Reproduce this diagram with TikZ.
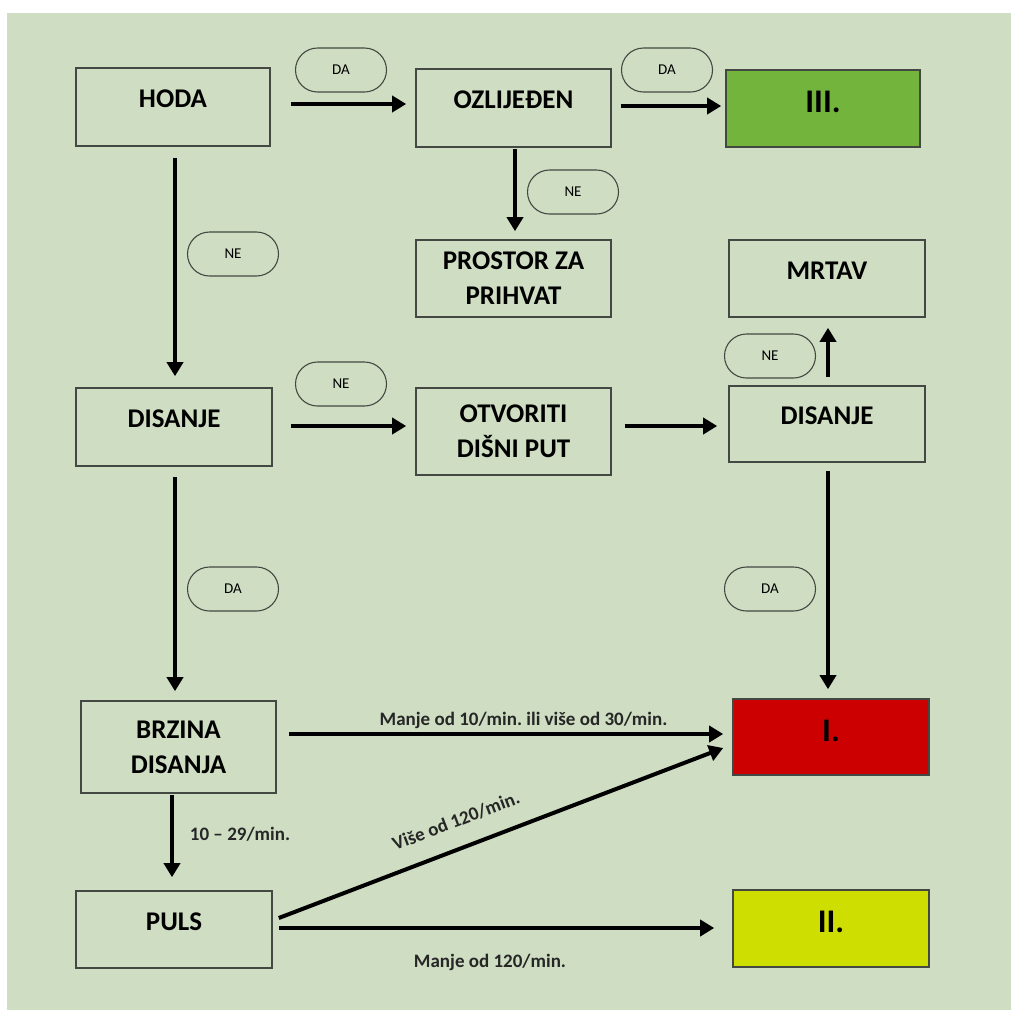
\documentclass[tikz,border=0pt]{standalone}
\usepackage{fontspec}
\setmainfont{Carlito}
\usetikzlibrary{arrows.meta,shapes.misc}
\definecolor{bg}{RGB}{207,222,195}
\definecolor{bord}{RGB}{68,72,66}
\definecolor{gIII}{RGB}{114,180,60}
\definecolor{rI}{RGB}{204,0,0}
\definecolor{yII}{RGB}{206,222,0}
\tikzset{
  box/.style={draw=bord,line width=1.6pt,minimum width=195pt,minimum height=78pt,
    inner sep=0pt,align=center,font=\fontsize{27}{35}\selectfont\bfseries},
  oneline/.style={text depth=16pt},
  bigtxt/.style={font=\fontsize{33}{38}\selectfont\bfseries,text depth=13pt},
  pill/.style={draw=bord,line width=1.1pt,rounded rectangle,minimum width=91pt,
    minimum height=44pt,inner sep=0pt,font=\fontsize{15}{17}\selectfont},
  arr/.style={line width=4pt,-{Triangle[length=14pt,width=16pt]}},
  elab/.style={font=\fontsize{19}{22}\selectfont\bfseries\frenchspacing,text=black!85,inner sep=0pt}
}
\begin{document}
\frenchspacing
\begin{tikzpicture}[x=1pt,y=-1pt]
\useasboundingbox (0,0) rectangle (1011,1010);
\fill[bg] (7,13) rectangle (1011,1010);

% boxes
\node[box,oneline,minimum width=194pt] (hoda) at (173,107) {HODA};
\node[box,oneline] (ozl) at (513.5,108) {OZLIJEĐEN};
\node[box,bigtxt,fill=gIII,minimum width=194pt,minimum height=77pt] (iii) at (823,108.5) {III.};
\node[box,minimum height=77pt] (pros) at (513.5,278.5) {PROSTOR ZA\\PRIHVAT};
\node[box,oneline,minimum width=196pt,minimum height=77pt] (mrtav) at (827,278.5) {MRTAV};
\node[box,oneline,minimum width=196pt] (dis1) at (174,427) {DISANJE};
\node[box,minimum height=87pt] (otv) at (513.5,431.5) {OTVORITI\\DIŠNI PUT};
\node[box,oneline,minimum width=196pt,minimum height=76pt] (dis2) at (827,424) {DISANJE};
\node[box,minimum height=92pt] (brz) at (178.5,747) {BRZINA\\DISANJA};
\node[box,bigtxt,fill=rI,minimum width=196pt,minimum height=76pt] (red) at (831,737) {I.};
\node[box,oneline,minimum width=196pt,minimum height=77pt] (puls) at (174,929.5) {PULS};
\node[box,bigtxt,fill=yII,minimum width=196pt,minimum height=77pt] (yel) at (831,928.5) {II.};

% pills
\node[pill] (p1) at (341,70) {DA};
\node[pill] (p2) at (667,70) {DA};
\node[pill] (p3) at (573,192) {NE};
\node[pill] (p4) at (233,254) {NE};
\node[pill] (p5) at (341,384) {NE};
\node[pill] (p6) at (770,356) {NE};
\node[pill] (p7) at (233,589) {DA};
\node[pill] (p8) at (770,589) {DA};

% arrows
\draw[arr,shorten <=20pt,shorten >=9pt] ([yshift=3pt]hoda.east) -- ([yshift=3pt]hoda.east -| ozl.west);
\draw[arr,shorten <=9pt,shorten >=4pt] ([yshift=2pt]ozl.east) -- ([yshift=2pt]ozl.east -| iii.west);
\draw[arr,shorten <=1pt,shorten >=8pt] ([xshift=1.5pt]ozl.south) -- ([xshift=1.5pt]pros.north);
\draw[arr,shorten <=11pt,shorten >=11pt] ([xshift=2pt]hoda.south) -- ([xshift=1pt]dis1.north);
\draw[arr,shorten <=18pt,shorten >=9pt] ([yshift=1pt]dis1.east) -- ([yshift=1pt]dis1.east -| otv.west);
\draw[arr,shorten <=13pt,shorten >=11pt] ([yshift=5.5pt]otv.east) -- ([yshift=5.5pt]otv.east -| dis2.west);
\draw[arr,shorten <=8pt,shorten >=10pt] ([xshift=1pt]dis2.north) -- ([xshift=1pt]mrtav.south);
\draw[arr,shorten <=10pt,shorten >=9pt] ([xshift=1pt]dis1.south) -- ([xshift=-3.5pt]brz.north);
\draw[arr,shorten <=8pt,shorten >=9pt] ([xshift=1pt]dis2.south) -- ([xshift=-3pt]red.north);
\draw[arr,shorten <=12pt,shorten >=9pt] ([yshift=13pt]brz.east) -- ([yshift=13pt]brz.east -| red.west);
\draw[arr,shorten <=1pt,shorten >=13pt] ([xshift=-6.5pt]brz.south) -- ([xshift=-2pt]puls.north);
\draw[arr] ([xshift=6pt,yshift=11.5pt]puls.east) -- ([xshift=-9pt,yshift=-11pt]red.west);
\draw[arr,shorten <=6pt,shorten >=18pt] ([yshift=1.5pt]puls.east) -- ([yshift=1.5pt]puls.east -| yel.west);

% edge labels
\node[elab,anchor=base] (l1) at (523.5,725) {Manje od 10/min. ili više od 30/min.};
\node[elab,anchor=base] (l2) at (240,840) {10 – 29/min.};
\node[elab,rotate=21] (l3) at (456,821) {Više od 120/min.};
\node[elab,anchor=base] (l4) at (490,967) {Manje od 120/min.};
\end{tikzpicture}
\end{document}
